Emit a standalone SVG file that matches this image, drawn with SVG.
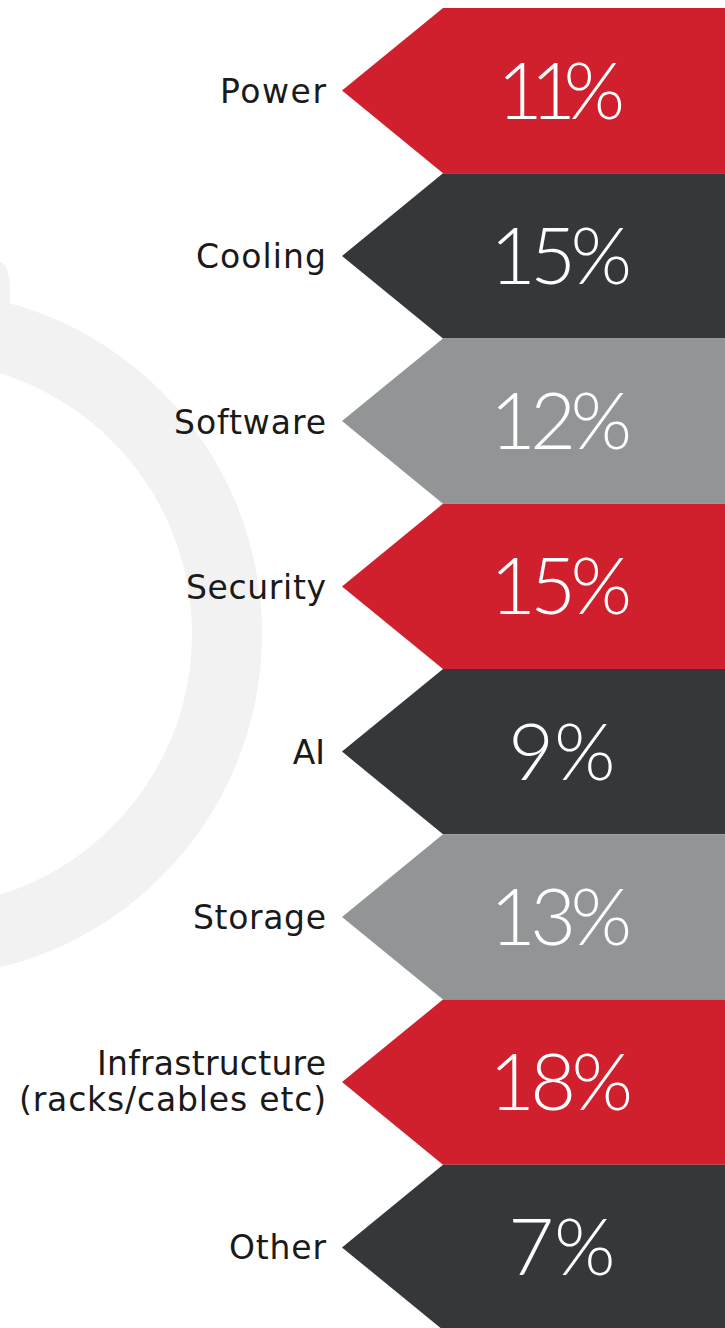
<svg xmlns="http://www.w3.org/2000/svg" width="725" height="1328" viewBox="0 0 725 1328">
<style>
.red{fill:#d0202d}
.dark{fill:#35383b}
.gray{fill:#929596}
.lbl{font-family:"DejaVu Sans","Liberation Sans",sans-serif;font-size:33px;fill:#1a1a1a;text-anchor:end}
.pct{font-family:Lato,"Open Sans","Liberation Sans",sans-serif;font-weight:300;font-size:79px;fill:#ffffff;text-anchor:middle}
.ring{fill:#f2f2f2}
</style>
<rect width="725" height="1328" fill="#ffffff"/>
<g id="ring">
<path class="ring" fill-rule="evenodd" d="M262,634 A343,343 0 1 1 -424,634 A343,343 0 1 1 262,634 Z M192,634 A273,273 0 1 0 -354,634 A273,273 0 1 0 192,634 Z"/>
<path class="ring" d="M-40,262 L0,262 C6,262 10,274 10,292 L10,320 L-40,320 Z"/>
</g>
<g id="node-power">
<polygon class="red" points="725,8 443,8 342,90.6 443,173.25 725,173.25"/>
<text class="lbl" x="326" y="102.6" textLength="106" lengthAdjust="spacing">Power</text>
<text class="pct" x="561" y="118.6" textLength="128" lengthAdjust="spacing">11%</text>
</g>
<g id="node-cooling">
<polygon class="dark" points="725,173.25 443,173.25 342,255.9 443,338.5 725,338.5"/>
<text class="lbl" x="326" y="267.9" textLength="130" lengthAdjust="spacing">Cooling</text>
<text class="pct" x="561" y="283.9" textLength="142" lengthAdjust="spacing">15%</text>
</g>
<g id="node-software">
<polygon class="gray" points="725,338.5 443,338.5 342,421.1 443,503.75 725,503.75"/>
<text class="lbl" x="326" y="433.6" textLength="152" lengthAdjust="spacing">Software</text>
<text class="pct" x="561" y="449.1" textLength="142" lengthAdjust="spacing">12%</text>
</g>
<g id="node-security">
<polygon class="red" points="725,503.75 443,503.75 342,586.4 443,669 725,669"/>
<text class="lbl" x="326" y="599" textLength="140" lengthAdjust="spacing">Security</text>
<text class="pct" x="561" y="614.4" textLength="142" lengthAdjust="spacing">15%</text>
</g>
<g id="node-ai">
<polygon class="dark" points="725,669 443,669 342,751.6 443,834.25 725,834.25"/>
<text class="lbl" x="325" y="763.6">AI</text>
<text class="pct" x="562" y="779.6">9%</text>
</g>
<g id="node-storage">
<polygon class="gray" points="725,834.25 443,834.25 342,916.9 443,999.5 725,999.5"/>
<text class="lbl" x="326" y="928.9" textLength="133" lengthAdjust="spacing">Storage</text>
<text class="pct" x="561" y="944.9" textLength="142" lengthAdjust="spacing">13%</text>
</g>
<g id="node-infrastructure">
<polygon class="red" points="725,999.5 443,999.5 342,1082.1 443,1164.75 725,1164.75"/>
<text class="lbl" x="326" y="1075" textLength="229" lengthAdjust="spacing">Infrastructure</text>
<text class="lbl" x="326" y="1111" textLength="307" lengthAdjust="spacing">(racks/cables etc)</text>
<text class="pct" x="561" y="1110.1" textLength="144" lengthAdjust="spacing">18%</text>
</g>
<g id="node-other">
<polygon class="dark" points="725,1164.75 443,1164.75 342,1247.4 443,1330 725,1330"/>
<text class="lbl" x="326" y="1259.4" textLength="97" lengthAdjust="spacing">Other</text>
<text class="pct" x="562" y="1275.4">7%</text>
</g>
<g id="connectors"></g>
</svg>
